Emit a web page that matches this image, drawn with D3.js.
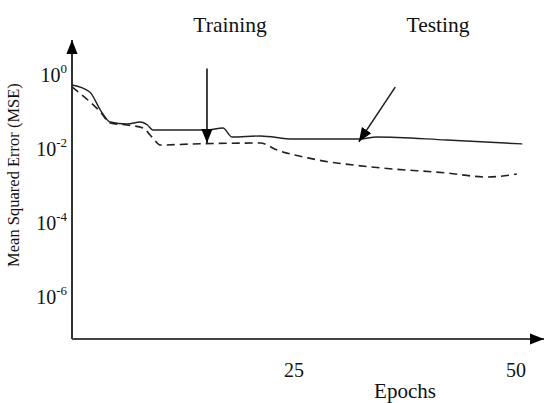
<!DOCTYPE html>
<html>
<head>
<meta charset="utf-8">
<script src="https://cdn.jsdelivr.net/npm/d3@7"></script>
<style>
  body { margin: 0; background: #fff; }
  text { font-family: "Liberation Serif", "Times New Roman", serif; fill: #111; }
</style>
</head>
<body>
<div id="chart"></div>
<script>
// epochs and MSE
var trainEpochs = [0, 2.0, 3.2, 4.3, 6.2, 7.7, 8.5, 9.1, 15.2, 17.0, 18.0, 21.2, 24.9, 32.4, 34.3, 42.2, 50.7];
var trainMSE    = [0.537, 0.347, 0.113, 0.0537, 0.0474, 0.0537, 0.0445, 0.0326, 0.0326, 0.037, 0.0211, 0.0225, 0.0186, 0.0186, 0.0211, 0.0175, 0.0137];
var testEpochs  = [0, 3.2, 4.3, 6.2, 8.0, 8.8, 9.6, 9.9, 13.6, 21.2, 23.1, 27.1, 34.7, 42.2, 46.7, 50.1];
var testMSE     = [0.474, 0.1, 0.0504, 0.0445, 0.037, 0.0239, 0.0145, 0.0128, 0.0137, 0.0145, 0.0094, 0.0054, 0.0031, 0.00225, 0.00175, 0.0021];
var xTicks = [25, 50];
var yTickExp = [0, -2, -4, -6];

var w = 544, h = 403;
var svg = d3.select("#chart").append("svg")
    .attr("width", w).attr("height", h);

var x = d3.scaleLinear().domain([0, 50]).range([72, 516]);
var y = d3.scaleLog().domain([1e-6, 1]).range([297, 75]);
var axisY = 339;

// arrow head
var defs = svg.append("defs");
defs.append("marker").attr("id", "head2")
    .attr("viewBox", "0 0 10 10").attr("refX", 10).attr("refY", 5)
    .attr("markerWidth", 14).attr("markerHeight", 14).attr("markerUnits", "userSpaceOnUse")
    .attr("orient", "auto")
  .append("path").attr("d", "M0,1 L10,5 L0,9 Z").attr("fill", "#000");

// axes
svg.append("line").attr("x1", x(0)).attr("y1", axisY).attr("x2", x(0)).attr("y2", 40)
    .attr("stroke", "#333").attr("stroke-width", 2).attr("marker-end", "url(#head2)");
svg.append("line").attr("x1", x(0)).attr("y1", axisY).attr("x2", 544).attr("y2", axisY)
    .attr("stroke", "#444").attr("stroke-width", 2).attr("marker-end", "url(#head2)");

// y tick labels
var yl = svg.append("g").selectAll("text").data(yTickExp).enter().append("text")
    .attr("x", 67).attr("y", function(d) { return y(Math.pow(10, d)) + 7; })
    .attr("text-anchor", "end").style("font-size", "20px");
yl.append("tspan").text("10");
yl.append("tspan").attr("dy", -9).style("font-size", "13px")
    .text(function(d) { return d === 0 ? "0" : "-" + (-d); });

// x tick labels
svg.append("g").selectAll("text").data(xTicks).enter().append("text")
    .attr("x", function(d) { return x(d); }).attr("y", 377)
    .attr("text-anchor", "middle").style("font-size", "20px")
    .text(function(d) { return d; });

svg.append("text").attr("x", 405).attr("y", 398).attr("text-anchor", "middle")
    .style("font-size", "21px").text("Epochs");
svg.append("text").attr("transform", "translate(19,175) rotate(-90)")
    .attr("text-anchor", "middle").style("font-size", "16.5px")
    .text("Mean Squared Error (MSE)");

// curves
var line = d3.line().curve(d3.curveMonotoneX)
    .x(function(d) { return x(d[0]); }).y(function(d) { return y(d[1]); });

svg.append("path").datum(d3.zip(trainEpochs, trainMSE))
    .attr("d", line).attr("fill", "none").attr("stroke", "#222").attr("stroke-width", 1.4);
svg.append("path").datum(d3.zip(testEpochs, testMSE))
    .attr("d", line).attr("fill", "none").attr("stroke", "#222").attr("stroke-width", 1.6)
    .attr("stroke-dasharray", "8,5");

// annotations
svg.append("text").attr("x", 230).attr("y", 32).attr("text-anchor", "middle")
    .style("font-size", "21.5px").text("Training");
svg.append("text").attr("x", 438).attr("y", 32).attr("text-anchor", "middle")
    .style("font-size", "21.5px").text("Testing");

svg.append("line").attr("x1", x(15.2)).attr("y1", y(1.5)).attr("x2", x(15.2)).attr("y2", y(0.0145))
    .attr("stroke", "#111").attr("stroke-width", 1.6).attr("marker-end", "url(#head2)");
svg.append("line").attr("x1", x(36.4)).attr("y1", y(0.47)).attr("x2", x(32.3)).attr("y2", y(0.0156))
    .attr("stroke", "#222").attr("stroke-width", 1.6).attr("marker-end", "url(#head2)");
</script>
</body>
</html>
